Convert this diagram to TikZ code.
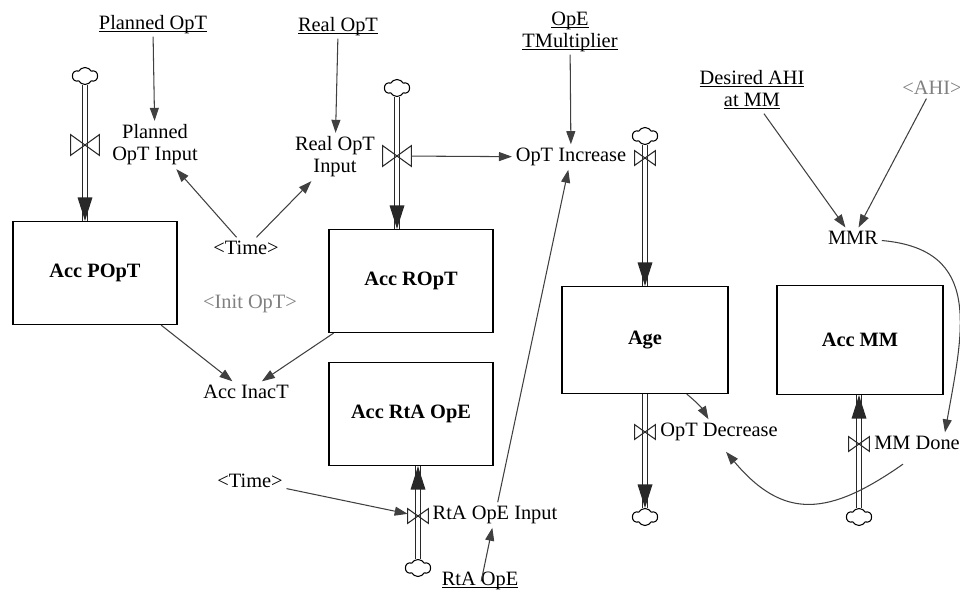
\documentclass[tikz,border=0pt]{standalone}
\usepackage{fontspec}
\setmainfont{Liberation Serif}
\usepackage{tikz}
\usetikzlibrary{arrows.meta,positioning,calc,shapes.symbols}
\definecolor{linkgray}{RGB}{64,64,64}
\definecolor{shadowgray}{RGB}{128,128,128}
\definecolor{pipeblack}{RGB}{40,40,40}
\newcommand{\cnst}[1]{\underline{\smash{#1}}}

\begin{document}
\begin{tikzpicture}[
 x=0.02cm,y=-0.02cm,
 every node/.style={font=\fontsize{11.6}{12.6}\selectfont,align=center,inner sep=2pt},
 stock/.style={draw=black,line width=0.7pt,minimum width=32.8mm,minimum height=20.6mm,font=\fontsize{11.6}{12.6}\selectfont\bfseries},
 shadow/.style={text=shadowgray},
 source/.style={cloud,cloud puffs=6,cloud puff arc=120,aspect=1.6,draw=black,line width=0.6pt,fill=white,inner sep=0pt,minimum width=5mm,minimum height=3.4mm},
 valve/.style={inner sep=0pt,minimum width=4mm,minimum height=2.8mm},
 bigvalve/.style={inner sep=0pt,minimum width=5.6mm,minimum height=4mm},
 pipe/.style={draw=pipeblack,line width=0.6pt,double=white,double distance=2.3pt},
 flowtip/.style={draw=white,line width=2pt,-{Triangle[length=4.7mm,width=3mm,color=pipeblack,line width=0pt]}},
 link/.style={draw=linkgray,line width=0.6pt,-{Triangle[length=2.6mm,width=1.8mm]}}
]
\useasboundingbox (0,0) rectangle (960,594);
% stocks
\node[stock] (popt) at (95,273) {Acc POpT};
\node[stock] (ropt) at (411,281) {Acc ROpT};
\node[stock] (rtaope) at (411,414) {Acc RtA OpE};
\node[stock,minimum width=33.2mm,minimum height=21.4mm] (age) at (645,340) {Age};
\node[stock,minimum width=33.2mm,minimum height=21.8mm] (accmm) at (860,340) {Acc MM};
% sources and sinks
\node[source] (c1) at (85,76) {};
\node[source] (c2) at (397,88) {};
\node[source] (c3) at (645,136) {};
\node[source] (c4) at (645,517) {};
\node[source] (c5) at (859,517) {};
\node[source] (c6) at (418,568) {};
% valves
\node[bigvalve] (v1) at (85,145) {};
\node[bigvalve] (v2) at (397,156) {};
\node[valve] (v3) at (645,158) {};
\node[valve] (v4) at (645,432) {};
\node[valve] (v5) at (859,444) {};
\node[valve] (v6) at (418,516) {};
% flows
\node (plannedin) at (155,145) {Planned\\OpT Input};
\node (realin) at (335,157) {Real OpT\\Input};
\node (optinc) at (571,157) {OpT Increase};
\node (optdec) at (719,432) {OpT Decrease};
\node (mmdone) at (917,443) {MM Done};
\node (rtaopein) at (495,515) {RtA OpE Input};
% auxiliaries
\node (plannedopt) at (153,31) {\cnst{Planned OpT}};
\node (realopt) at (338,33) {\cnst{Real OpT}};
\node (opemult) at (570,38) {\cnst{OpE}\\\cnst{TMultiplier}};
\node (time1) at (246,248) {<Time>};
\node[shadow] (initopt) at (250,304) {<Init OpT>};
\node (accinact) at (246,392) {Acc InacT};
\node (time2) at (250,481) {<Time>};
\node (rtaopecnst) at (480,587) {\cnst{RtA OpE}};
\node (desired) at (752,97) {\cnst{Desired AHI}\\\cnst{at MM}};
\node[shadow] (ahi) at (932,88) {<AHI>};
\node (mmr) at (853,238) {MMR};
% pipes
\draw[pipe] (c1) -- (c1 |- popt.north);
\draw[flowtip] (v1.south) -- (c1 |- popt.north);
\draw[pipe] (c2) -- (c2 |- ropt.north);
\draw[flowtip] (v2.south) -- (c2 |- ropt.north);
\draw[pipe] (c3) -- (age.north);
\draw[flowtip] (v3.south) -- (age.north);
\draw[pipe] (age.south) -- (c4);
\draw[flowtip] (v4.south) -- (c4);
\draw[pipe] (c5) -- (c5 |- accmm.south);
\draw[flowtip] (v5.north) -- (c5 |- accmm.south);
\draw[pipe] (c6) -- (c6 |- rtaope.south);
\draw[flowtip] (v6.north) -- (c6 |- rtaope.south);
\foreach \v in {v1,v2,v3,v4,v5,v6}
  \draw[draw=pipeblack,line width=0.6pt] (\v.north west) -- (\v.south east) -- (\v.north east) -- (\v.south west) -- cycle;
% links
\draw[link] (plannedopt) -- (plannedin);
\draw[link] (realopt) -- (realin);
\draw[link] (opemult) -- (optinc);
\draw[link] (time1) -- (plannedin);
\draw[link] (time1) -- (realin);
\draw[link] (v2) -- (optinc);
\draw[link] (rtaopein) -- (optinc);
\draw[link] (popt) -- (accinact);
\draw[link] (ropt) -- (accinact);
\draw[link] (time2) -- (v6);
\draw[link] (rtaopecnst) -- (rtaopein);
\draw[link] (desired) -- (mmr);
\draw[link] (ahi) -- (mmr);
\draw[link] ($(age.south)!0.5!(age.south east)$) to[bend left=10] ([xshift=-6pt]optdec.north);
\draw[link] (mmr) to[out=-5,in=80,looseness=1.3] ($(mmdone.north)!0.6!(mmdone.north east)$);
\draw[link] ([xshift=-8pt,yshift=-6pt]mmdone.south) to[out=215,in=-50,looseness=1.3] ([xshift=4pt,yshift=-4pt]optdec.south);
\end{tikzpicture}
\end{document}
